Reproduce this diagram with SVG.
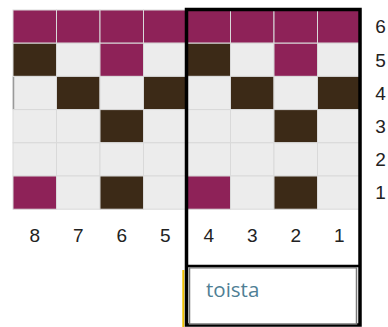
<svg xmlns="http://www.w3.org/2000/svg" width="388" height="327" viewBox="0 0 388 327">
<style>
.c{stroke:#d9d9d9;stroke-width:1}
.m{fill:#8e2258}
.d{fill:#3c2a17}
.l{fill:#ececec}
.num{font-family:"Liberation Sans",Arial,sans-serif;font-size:19px;fill:#222;text-anchor:middle}
.lbl{font-family:"Open Sans","Noto Sans",sans-serif;font-size:20.5px;fill:#4f7f95}
</style>
<rect width="388" height="327" fill="#ffffff"/>
<g id="grid">
<!-- row 6 -->
<rect class="c m" x="13" y="10" width="43.5" height="33.2"/>
<rect class="c m" x="56.5" y="10" width="43.5" height="33.2"/>
<rect class="c m" x="100" y="10" width="43.5" height="33.2"/>
<rect class="c m" x="143.5" y="10" width="43.5" height="33.2"/>
<rect class="c m" x="187" y="10" width="43.5" height="33.2"/>
<rect class="c m" x="230.5" y="10" width="43.5" height="33.2"/>
<rect class="c m" x="274" y="10" width="43.5" height="33.2"/>
<rect class="c m" x="317.5" y="10" width="43.5" height="33.2"/>
<!-- row 5 -->
<rect class="c d" x="13" y="43.2" width="43.5" height="33.2"/>
<rect class="c l" x="56.5" y="43.2" width="43.5" height="33.2"/>
<rect class="c m" x="100" y="43.2" width="43.5" height="33.2"/>
<rect class="c l" x="143.5" y="43.2" width="43.5" height="33.2"/>
<rect class="c d" x="187" y="43.2" width="43.5" height="33.2"/>
<rect class="c l" x="230.5" y="43.2" width="43.5" height="33.2"/>
<rect class="c m" x="274" y="43.2" width="43.5" height="33.2"/>
<rect class="c l" x="317.5" y="43.2" width="43.5" height="33.2"/>
<!-- row 4 -->
<rect class="c l" x="13" y="76.4" width="43.5" height="33.2"/>
<rect class="c d" x="56.5" y="76.4" width="43.5" height="33.2"/>
<rect class="c l" x="100" y="76.4" width="43.5" height="33.2"/>
<rect class="c d" x="143.5" y="76.4" width="43.5" height="33.2"/>
<rect class="c l" x="187" y="76.4" width="43.5" height="33.2"/>
<rect class="c d" x="230.5" y="76.4" width="43.5" height="33.2"/>
<rect class="c l" x="274" y="76.4" width="43.5" height="33.2"/>
<rect class="c d" x="317.5" y="76.4" width="43.5" height="33.2"/>
<!-- row 3 -->
<rect class="c l" x="13" y="109.6" width="43.5" height="33.2"/>
<rect class="c l" x="56.5" y="109.6" width="43.5" height="33.2"/>
<rect class="c d" x="100" y="109.6" width="43.5" height="33.2"/>
<rect class="c l" x="143.5" y="109.6" width="43.5" height="33.2"/>
<rect class="c l" x="187" y="109.6" width="43.5" height="33.2"/>
<rect class="c l" x="230.5" y="109.6" width="43.5" height="33.2"/>
<rect class="c d" x="274" y="109.6" width="43.5" height="33.2"/>
<rect class="c l" x="317.5" y="109.6" width="43.5" height="33.2"/>
<!-- row 2 -->
<rect class="c l" x="13" y="142.8" width="43.5" height="33.2"/>
<rect class="c l" x="56.5" y="142.8" width="43.5" height="33.2"/>
<rect class="c l" x="100" y="142.8" width="43.5" height="33.2"/>
<rect class="c l" x="143.5" y="142.8" width="43.5" height="33.2"/>
<rect class="c l" x="187" y="142.8" width="43.5" height="33.2"/>
<rect class="c l" x="230.5" y="142.8" width="43.5" height="33.2"/>
<rect class="c l" x="274" y="142.8" width="43.5" height="33.2"/>
<rect class="c l" x="317.5" y="142.8" width="43.5" height="33.2"/>
<!-- row 1 -->
<rect class="c m" x="13" y="176" width="43.5" height="33.2"/>
<rect class="c l" x="56.5" y="176" width="43.5" height="33.2"/>
<rect class="c d" x="100" y="176" width="43.5" height="33.2"/>
<rect class="c l" x="143.5" y="176" width="43.5" height="33.2"/>
<rect class="c m" x="187" y="176" width="43.5" height="33.2"/>
<rect class="c l" x="230.5" y="176" width="43.5" height="33.2"/>
<rect class="c d" x="274" y="176" width="43.5" height="33.2"/>
<rect class="c l" x="317.5" y="176" width="43.5" height="33.2"/>
<line x1="13.5" y1="77" x2="13.5" y2="109" stroke="#9a9a9a" stroke-width="1.5"/>
</g>
<g id="column-labels">
<text class="num" x="34.75" y="242">8</text>
<text class="num" x="78.25" y="242">7</text>
<text class="num" x="121.75" y="242">6</text>
<text class="num" x="165.25" y="242">5</text>
<text class="num" x="208.75" y="242">4</text>
<text class="num" x="252.25" y="242">3</text>
<text class="num" x="295.75" y="242">2</text>
<text class="num" x="339.25" y="242">1</text>
</g>
<g id="row-labels">
<text class="num" x="380.5" y="33.3">6</text>
<text class="num" x="380.5" y="66.5">5</text>
<text class="num" x="380.5" y="99.7">4</text>
<text class="num" x="380.5" y="132.9">3</text>
<text class="num" x="380.5" y="166.1">2</text>
<text class="num" x="380.5" y="199.3">1</text>
</g>
<g id="frame">
<line x1="183.3" y1="270" x2="183.3" y2="327" stroke="#f0c000" stroke-width="2"/>
<rect x="186.5" y="9.5" width="173.5" height="315.5" fill="none" stroke="#000" stroke-width="3.5"/>
<line x1="187" y1="266" x2="359" y2="266" stroke="#000" stroke-width="2.5"/>
</g>
<g id="toista">
<rect x="189.5" y="267.8" width="167" height="56.2" fill="#fff" stroke="#7a7a7a" stroke-width="1.5"/>
<text class="lbl" x="206" y="297">toista</text>
</g>
</svg>
